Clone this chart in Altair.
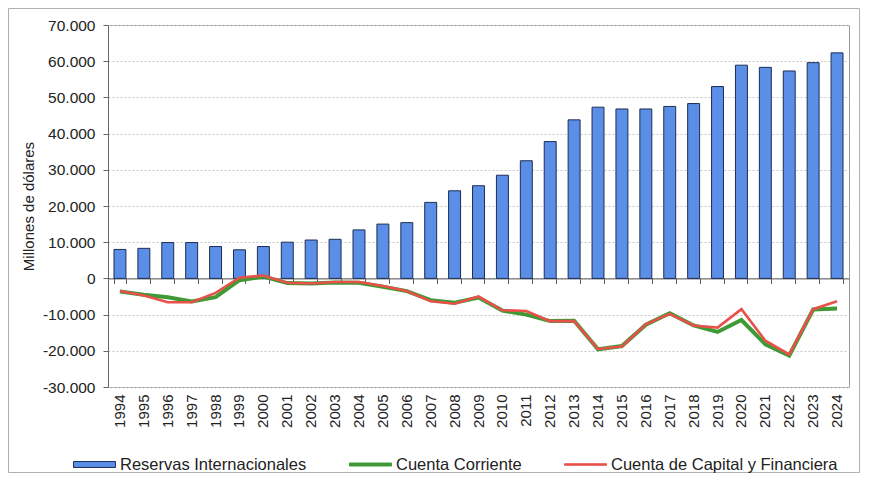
import altair as alt
import pandas as pd

years = ["1994", "1995", "1996", "1997", "1998", "1999", "2000", "2001", "2002", "2003",
         "2004", "2005", "2006", "2007", "2008", "2009", "2010", "2011", "2012", "2013",
         "2014", "2015", "2016", "2017", "2018", "2019", "2020", "2021", "2022", "2023", "2024"]

reservas = [8000, 8300, 9900, 9900, 8800, 7900, 8800, 10000, 10600, 10800,
            13400, 15000, 15400, 21000, 24200, 25600, 28500, 32500, 37800, 43800,
            47300, 46800, 46800, 47500, 48300, 53000, 58900, 58300, 57300, 59600, 62300]

cuenta_corriente = [-3600, -4500, -5200, -6400, -5200, -500, 500, -1300, -1400, -1100,
                    -1200, -2300, -3500, -6000, -6700, -5300, -8900, -10000, -11800, -11700,
                    -19600, -18700, -12800, -9600, -13000, -14800, -11500, -18200, -21300, -8600, -8300]

cuenta_capital = [-3500, -4700, -6600, -6600, -4000, 200, 800, -1200, -1400, -1000,
                  -1000, -2100, -3500, -6300, -7000, -5000, -8800, -9000, -11800, -11800,
                  -19500, -18800, -12700, -9800, -13000, -13600, -8500, -17200, -21000, -8500, -6300]

series_names = ["Reservas Internacionales", "Cuenta Corriente", "Cuenta de Capital y Financiera"]
series_fill = ["#5b8ee6", "#3f9a35", "#e8504a"]
series_stroke = ["#1c2e55", "#3f9a35", "#e8504a"]
series_paths = ["M-1,-0.14L1,-0.14L1,0.14L-1,0.14Z",
                "M-1,-0.07L1,-0.07L1,0.07L-1,0.07Z",
                "M-1,-0.035L1,-0.035L1,0.035L-1,0.035Z"]

FONT = "Liberation Sans"
TXT = "#222222"

df = pd.DataFrame({"year": years, "reservas": reservas,
                   "cc": cuenta_corriente, "kf": cuenta_capital})

yscale = alt.Scale(domain=[-30000, 70000], nice=False, zero=False)
yaxis = alt.Axis(
    values=list(range(-30000, 70001, 10000)),
    labelExpr="replace(replace(format(datum.value, ','), ',', '.'), '\u2212', '-')",
    labelFont=FONT, labelFontSize=15.5, labelColor=TXT, labelPadding=8,
    tickSize=5, tickColor="#666666", domainColor="#666666",
    grid=True, gridColor="#c8c8c8", gridDash=[2, 2],
    titleFont=FONT, titleFontSize=15, titleFontWeight="normal", titleColor=TXT, titlePadding=6,
)
TITLE = "Millones de dólares"

def Y(field):
    return alt.Y(f"{field}:Q", scale=yscale, axis=yaxis, title=TITLE)

xscale = alt.Scale(paddingInner=0.5, paddingOuter=0.25)
x_label_axis = alt.Axis(orient="bottom", labelAngle=270, labelFont=FONT, labelFontSize=15,
                        labelColor=TXT, ticks=False, tickSize=0, domain=False, grid=False,
                        labelPadding=7, title=None)
x_tick_axis = alt.Axis(orient="bottom", offset=-108.6, labels=False, ticks=True, tickSize=5,
                       tickBand="extent", tickColor="#555555", domain=True, domainColor="#555555",
                       grid=False, title=None)

frame = alt.Chart(pd.DataFrame({"a": [0]})).mark_rect(
    fillOpacity=0, stroke="#b0b0b0", strokeWidth=1
).encode(x=alt.value(-99.5), x2=alt.value(751.5), y=alt.value(-16.5), y2=alt.value(447.5))

bars = alt.Chart(df).mark_bar(color=series_fill[0], stroke=series_stroke[0], strokeWidth=1).encode(
    x=alt.X("year:N", scale=xscale, axis=x_label_axis, sort=years),
    y=Y("reservas"),
)

green = alt.Chart(df).mark_line(color=series_fill[1], strokeWidth=4).encode(
    x=alt.X("year:N", scale=xscale, axis=x_tick_axis, sort=years),
    y=Y("cc"),
)

red = alt.Chart(df).mark_line(color=series_fill[2], strokeWidth=2.6).encode(
    x=alt.X("year:N", scale=xscale, axis=None, sort=years),
    y=Y("kf"),
)

leg = alt.Legend(title=None, orient="none", legendX=-35, legendY=418, direction="horizontal",
                 symbolSize=1764, labelFont=FONT, labelFontSize=16.5, labelColor=TXT,
                 labelLimit=400, labelOffset=4, columnPadding=40, symbolStrokeWidth=1, padding=0)

legend_df = pd.DataFrame({"series": series_names, "year": [years[0]] * 3, "v": [1e6] * 3})
legend_layer = alt.Chart(legend_df).mark_point(filled=True, clip=True, opacity=1).encode(
    x=alt.X("year:N", scale=xscale, axis=None, sort=years),
    y=Y("v"),
    fill=alt.Fill("series:N", scale=alt.Scale(domain=series_names, range=series_fill), legend=leg),
    stroke=alt.Stroke("series:N", scale=alt.Scale(domain=series_names, range=series_stroke), legend=leg),
    shape=alt.Shape("series:N", scale=alt.Scale(domain=series_names, range=series_paths), legend=leg),
)

chart = alt.layer(frame, bars, green, red, legend_layer).resolve_axis(
    x="independent"
).properties(
    width=741, height=362,
    autosize=alt.AutoSizeParams(type="none"),
    padding={"left": 100, "top": 17, "right": 12, "bottom": 87},
    background="white",
).configure_view(stroke="#9a9a9a", strokeWidth=1)

chart.save("out.html", embed_options={"renderer": "svg", "actions": False})
